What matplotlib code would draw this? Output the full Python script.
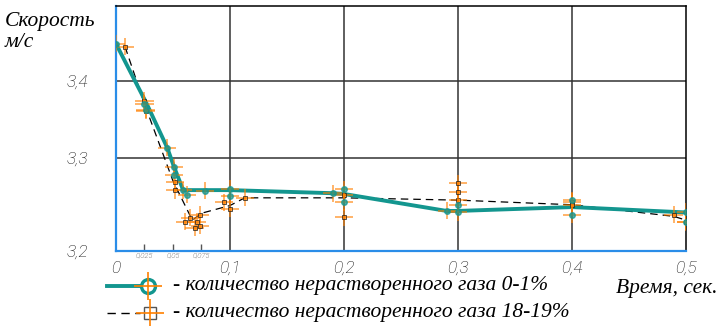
import matplotlib
matplotlib.use("Agg")
import matplotlib.pyplot as plt
from matplotlib.lines import Line2D

# средние значения (линии)
x_mean1 = [0, 0.027, 0.045, 0.051, 0.059, 0.078, 0.1, 0.19, 0.2, 0.29, 0.3, 0.4, 0.5]
y_mean1 = [3.448, 3.370, 3.313, 3.288, 3.258, 3.258, 3.258, 3.254, 3.253, 3.231, 3.231, 3.236, 3.229]
x_mean2 = [0.008, 0.025, 0.05, 0.067, 0.075, 0.1, 0.113, 0.2, 0.3, 0.4, 0.489, 0.5]
y_mean2 = [3.444, 3.37, 3.27, 3.219, 3.228, 3.238, 3.248, 3.248, 3.245, 3.239, 3.224, 3.219]

# отдельные замеры, газ 0-1%
x_pts1 = [0, 0.025, 0.026, 0.045, 0.051, 0.051, 0.059, 0.062, 0.078, 0.1, 0.1,
          0.19, 0.2, 0.2, 0.29, 0.3, 0.3, 0.4, 0.4, 0.5, 0.5]
y_pts1 = [3.448, 3.370, 3.362, 3.313, 3.288, 3.277, 3.258, 3.252, 3.257, 3.260, 3.251,
          3.254, 3.259, 3.242, 3.231, 3.239, 3.229, 3.245, 3.226, 3.230, 3.216]
# отдельные замеры, газ 18-19%
x_pts2 = [0.008, 0.025, 0.026, 0.052, 0.052, 0.061, 0.065, 0.069, 0.071, 0.074, 0.074,
          0.095, 0.1, 0.113, 0.2, 0.2, 0.3, 0.3, 0.3, 0.4, 0.4, 0.489, 0.5]
y_pts2 = [3.444, 3.374, 3.361, 3.268, 3.258, 3.217, 3.222, 3.209, 3.217, 3.226, 3.212,
          3.242, 3.234, 3.248, 3.252, 3.223, 3.267, 3.256, 3.245, 3.243, 3.239, 3.226, 3.217]

x_major = [0, 0.1, 0.2, 0.3, 0.4, 0.5]
x_major_labels = ["0", "0,1", "0,2", "0,3", "0,4", "0,5"]
x_minor = [0.025, 0.05, 0.075]
x_minor_labels = ["0,025", "0,05", "0,075"]
y_labels = ["3,2", "3,3", "3,4"]
legend_labels = ["- количество нерастворенного газа 0-1%",
                 "- количество нерастворенного газа 18-19%"]

teal = "#13968f"
orange = "#ff8000"
blue = "#2a8de8"
tick_font = {"family": ["Roboto", "DejaVu Sans"], "style": "italic", "weight": "light",
             "color": "#111111"}
serif = {"family": ["Liberation Serif", "DejaVu Serif"], "style": "italic"}

fig = plt.figure(figsize=(7.2, 3.26), dpi=100)
ax = fig.add_axes([0.161, 0.230, 0.792, 0.752])
ylo, yhi = 3.179, 3.497
ax.set_xlim(0, 0.5)
ax.set_ylim(ylo, yhi)

# сетка
for xv in x_major[1:-1]:
    ax.axvline(xv, color="#333333", lw=1.1, zorder=1)
for yv in [3.3, 3.4]:
    ax.axhline(yv, color="#333333", lw=1.1, zorder=1)

ax.spines["left"].set_color(blue)
ax.spines["bottom"].set_color(blue)
ax.spines["left"].set_linewidth(1.6)
ax.spines["bottom"].set_linewidth(1.6)
ax.spines["top"].set_linewidth(1.1)
ax.spines["right"].set_linewidth(1.1)

# линии
ax.plot(x_mean2, y_mean2, color="black", lw=0.9, dashes=(6, 4), zorder=3)
ax.plot(x_mean1, y_mean1, color=teal, lw=2.8, zorder=4)

# замеры с крестами
ax.errorbar(x_pts2, y_pts2, xerr=0.008, yerr=0.011, fmt="s", ms=3.5, mfc=orange, mec="#222222",
            mew=0.7, ecolor=orange, elinewidth=1.1, alpha=0.75, zorder=5)
ax.errorbar(x_pts1, y_pts1, xerr=0.008, yerr=0.011, fmt="o", ms=4, mfc=teal, mec=teal,
            ecolor=orange, elinewidth=1.1, alpha=0.75, zorder=6)

# подписи осей
ax.set_yticks([ylo, 3.3, 3.4])
ax.set_yticklabels(y_labels, fontdict=tick_font, fontsize=12.5)
ax.tick_params(axis="y", length=0, pad=20)
ax.set_xticks(x_major)
ax.set_xticklabels(x_major_labels, fontdict=tick_font, fontsize=12.5)
ax.tick_params(axis="x", length=0, pad=7)
ax.set_xticks(x_minor, minor=True)
ax.set_xticklabels(x_minor_labels, minor=True, fontdict=tick_font, fontsize=5.5)
ax.tick_params(axis="x", which="minor", direction="in", length=5, width=1, color="#555555", pad=1)

fig.text(0.007, 0.92, "Скорость", fontsize=15.5, **serif)
fig.text(0.007, 0.855, "м/с", fontsize=15.5, **serif)
fig.text(0.997, 0.10, "Время, сек.", fontsize=15.5, ha="right", **serif)

# легенда, нарисованная вручную
tf = fig.transFigure
ly1, ly2 = 0.123, 0.040
fig.add_artist(Line2D([0.149, 0.203], [ly1, ly1], color=teal, lw=2.8, transform=tf))
fig.add_artist(Line2D([0.206], [ly1], marker="o", ms=10, mfc="white", mec=teal, mew=2.4,
                      lw=0, transform=tf))
fig.add_artist(Line2D([0.206], [ly1], marker="+", ms=20, mew=1.2, color=orange, lw=0,
                      transform=tf))
fig.add_artist(Line2D([0.149, 0.195], [ly2, ly2], color="black", lw=1, dashes=(6, 4),
                      transform=tf))
fig.add_artist(Line2D([0.209], [ly2], marker="s", ms=9, mfc="white", mec="#555555", mew=1,
                      lw=0, transform=tf))
fig.add_artist(Line2D([0.209], [ly2], marker="+", ms=20, mew=1.2, color=orange, lw=0,
                      transform=tf))
fig.text(0.240, ly1, legend_labels[0], fontsize=15.5, va="center", **serif)
fig.text(0.240, ly2, legend_labels[1], fontsize=15.5, va="center", **serif)

fig.savefig("out.png", dpi=100)
